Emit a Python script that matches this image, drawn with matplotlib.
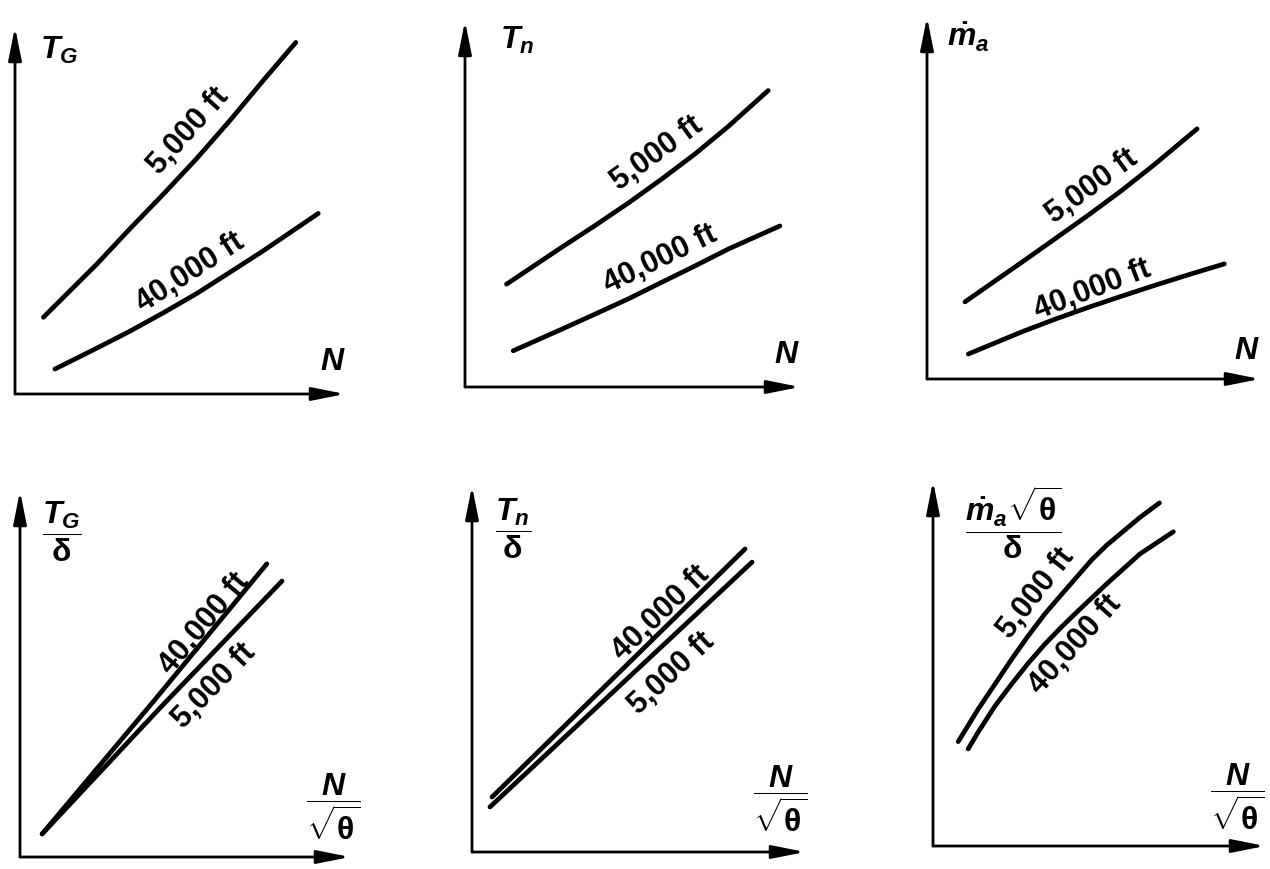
import matplotlib
matplotlib.use("Agg")
import matplotlib.pyplot as plt

plt.rcParams['font.family'] = ['Liberation Sans', 'DejaVu Sans']
plt.rcParams['mathtext.fontset'] = 'custom'
plt.rcParams['mathtext.rm'] = 'Liberation Sans:bold'
plt.rcParams['mathtext.it'] = 'Liberation Sans:italic:bold'
plt.rcParams['mathtext.bf'] = 'Liberation Sans:bold'

# all curves, on a 0..10 scale for each panel

# gross thrust T_G against N
tg_5k_x = [0.86, 2.48, 3.48, 4.49, 5.51, 6.52, 7.52, 8.51]
tg_5k_y = [2.09, 3.54, 4.50, 5.44, 6.42, 7.46, 8.54, 9.58]
tg_40k_x = [1.21, 2.48, 3.48, 4.49, 5.51, 6.52, 7.52, 9.19]
tg_40k_y = [0.68, 1.25, 1.71, 2.21, 2.74, 3.32, 3.90, 4.92]

# net thrust T_n against N
tn_5k_x = [1.24, 2.89, 3.88, 4.88, 5.87, 6.87, 7.86, 9.05]
tn_5k_y = [2.81, 3.82, 4.41, 5.03, 5.68, 6.37, 7.12, 8.10]
tn_40k_x = [1.44, 2.89, 3.88, 4.88, 5.87, 6.87, 7.86, 9.40]
tn_40k_y = [0.99, 1.58, 1.99, 2.41, 2.86, 3.31, 3.77, 4.40]

# air mass flow against N
ma_5k_x = [1.14, 1.84, 2.84, 3.84, 4.85, 5.85, 6.85, 8.11]
ma_5k_y = [2.13, 2.58, 3.22, 3.87, 4.53, 5.21, 5.94, 6.91]
ma_40k_x = [1.24, 2.84, 3.84, 4.85, 5.85, 6.85, 7.85, 8.93]
ma_40k_y = [0.69, 1.30, 1.65, 1.98, 2.29, 2.59, 2.88, 3.18]

# non-dimensional gross thrust against N/sqrt(theta)
tgd_5k_x = [0.67, 4.24, 7.94]
tgd_5k_y = [0.63, 4.07, 7.54]
tgd_40k_x = [0.67, 4.08, 7.48]
tgd_40k_y = [0.63, 4.29, 8.01]

# non-dimensional net thrust
tnd_5k_x = [0.54, 8.41]
tnd_5k_y = [1.23, 7.92]
tnd_40k_x = [0.60, 8.20]
tnd_40k_y = [1.50, 8.28]

# non-dimensional mass flow
mad_5k_x = [0.76, 1.36, 1.87, 2.37, 2.87, 3.37, 3.88, 4.78, 5.23, 6.23, 6.82]
mad_5k_y = [2.86, 3.75, 4.44, 5.12, 5.76, 6.36, 6.90, 7.84, 8.24, 9.00, 9.40]
mad_40k_x = [1.06, 1.36, 1.87, 2.37, 2.87, 3.37, 3.88, 4.38, 5.23, 6.23, 7.24]
mad_40k_y = [2.66, 3.12, 3.84, 4.44, 5.01, 5.53, 6.01, 6.45, 7.18, 8.00, 8.61]

alt_5k = '5,000 ft'
alt_40k = '40,000 ft'

W, H = 1270, 870


def axis_arrow(ax, end):
    ax.annotate('', xy=end, xytext=(0, 0), xycoords='axes fraction',
                arrowprops=dict(arrowstyle='-|>,head_length=1.0,head_width=0.2',
                                lw=2.0, color='k', mutation_scale=20,
                                shrinkA=0, shrinkB=0))


def draw_panel(fig, origin, tip, curves, labels, ylab, ylab_xy, xlab, xlab_xy):
    # origin / tip are the corners of the arrowed axes in pixels
    rect = [origin[0] / W, 1 - origin[1] / H,
            (tip[0] - origin[0]) / W, (origin[1] - tip[1]) / H]
    ax = fig.add_axes(rect)
    ax.set_xlim(0, 10)
    ax.set_ylim(0, 10)
    ax.axis('off')
    axis_arrow(ax, (1, 0))
    axis_arrow(ax, (0, 1))

    for x, y in curves:
        ax.plot(x, y, color='k', lw=3.4, solid_capstyle='round',
                solid_joinstyle='round')

    for txt, (x, y), rot in labels:
        ax.text(x, y, txt, rotation=rot, rotation_mode='anchor',
                ha='center', va='center', fontsize=22, fontweight='bold')

    ax.text(ylab_xy[0], ylab_xy[1], ylab, ha='center', va='center', fontsize=23)
    ax.text(xlab_xy[0], xlab_xy[1], xlab, ha='center', va='center', fontsize=23)
    return ax


fig = plt.figure(figsize=(12.7, 8.7), dpi=100)

draw_panel(fig, (15, 395), (345, 28),
           [(tg_5k_x, tg_5k_y), (tg_40k_x, tg_40k_y)],
           [(alt_5k, (5.25, 7.20), 48), (alt_40k, (5.30, 3.32), 33)],
           r'$T_G$', (1.35, 9.40), r'$N$', (9.64, 0.90))

draw_panel(fig, (465, 388), (800, 22),
           [(tn_5k_x, tn_5k_y), (tn_40k_x, tn_40k_y)],
           [(alt_5k, (5.73, 6.40), 36), (alt_40k, (5.82, 3.50), 26)],
           r'$T_n$', (1.55, 9.50), r'$N$', (9.61, 0.90))

draw_panel(fig, (927, 380), (1260, 18),
           [(ma_5k_x, ma_5k_y), (ma_40k_x, ma_40k_y)],
           [(alt_5k, (4.95, 5.35), 36), (alt_40k, (4.98, 2.50), 21)],
           r'$\dot{m}_a$', (1.25, 9.45), r'$N$', (9.61, 0.80))

draw_panel(fig, (20, 858), (350, 492),
           [(tgd_5k_x, tgd_5k_y), (tgd_40k_x, tgd_40k_y)],
           [(alt_40k, (5.60, 6.40), 50), (alt_5k, (5.90, 4.70), 46)],
           r'$\dfrac{T_G}{\mathrm{\delta}}$', (1.27, 8.90),
           r'$\dfrac{N}{\sqrt{\mathrm{\theta}}}$', (9.48, 1.37))

draw_panel(fig, (472, 853), (805, 487),
           [(tnd_5k_x, tnd_5k_y), (tnd_40k_x, tnd_40k_y)],
           [(alt_40k, (5.68, 6.55), 44), (alt_5k, (6.00, 4.90), 43)],
           r'$\dfrac{T_n}{\mathrm{\delta}}$', (1.23, 8.85),
           r'$\dfrac{N}{\sqrt{\mathrm{\theta}}}$', (9.25, 1.45))

draw_panel(fig, (933, 847), (1265, 482),
           [(mad_5k_x, mad_5k_y), (mad_40k_x, mad_40k_y)],
           [(alt_5k, (3.10, 6.95), 52), (alt_40k, (4.30, 5.55), 48)],
           r'$\dfrac{\dot{m}_a\sqrt{\mathrm{\theta}}}{\mathrm{\delta}}$', (2.41, 8.90),
           r'$\dfrac{N}{\sqrt{\mathrm{\theta}}}$', (9.16, 1.37))

fig.savefig('out.png', dpi=100)
